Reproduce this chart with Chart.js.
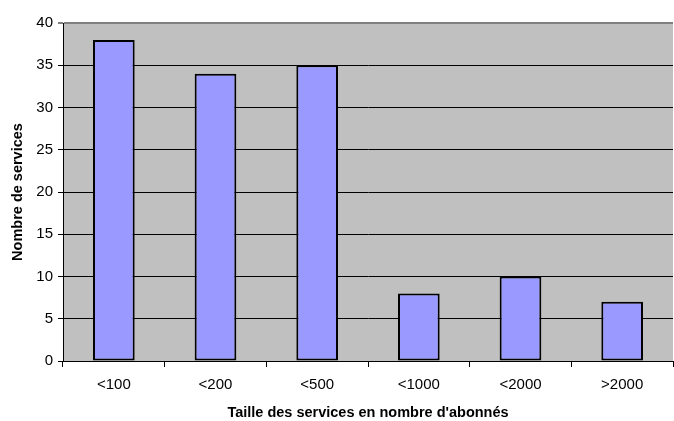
<!DOCTYPE html>
<html><head><meta charset="utf-8">
<script src="https://cdn.jsdelivr.net/npm/chart.js@4"></script>
<style>html,body{margin:0;padding:0;background:#fff}#w{width:674px;height:421px}</style>
</head><body><div id="w"><canvas id="c"></canvas></div>
<script>
const categories = ['<100','<200','<500','<1000','<2000','>2000'];
const services = [38,34,35,8,10,7];
const xTitle = "Taille des services en nombre d'abonnés";
const yTitle = 'Nombre de services';

const bgPlugin = {
  id:'bg',
  beforeDraw(chart){
    const a = chart.chartArea, ctx = chart.ctx;
    ctx.save(); ctx.fillStyle = '#C0C0C0';
    ctx.fillRect(a.left, a.top, a.right - a.left, a.bottom - a.top);
    ctx.restore();
  }
};

new Chart(document.getElementById('c'), {
  type:'bar',
  data:{labels:categories, datasets:[{data:services, backgroundColor:'#9999FF', borderColor:'#000', borderWidth:2, borderSkipped:false, barPercentage:0.41, categoryPercentage:1}]},
  options:{
    responsive:true, maintainAspectRatio:false, animation:false,
    layout:{padding:{top:23,right:1,left:7,bottom:1}},
    plugins:{legend:{display:false}, tooltip:{enabled:false}},
    scales:{
      x:{
        grid:{offset:true, drawOnChartArea:false, drawTicks:true, tickLength:6, color:'#000'},
        border:{color:'#000', width:1},
        ticks:{color:'#000', font:{family:'Liberation Sans, Arial', size:15}, padding:9},
        title:{display:true, text:xTitle, color:'#000', font:{family:'Liberation Sans, Arial', size:14.5, weight:'bold', lineHeight:1}, padding:{top:8,bottom:0}},
        afterFit(s){ s.height = 59; }
      },
      y:{
        min:0, max:40,
        grid:{color:(c)=> c.tick && c.tick.value===40 ? '#808080' : '#000', tickLength:5, lineWidth:(c)=> c.tick && c.tick.value===40 ? 2 : 1},
        border:{color:'#000', width:1},
        ticks:{stepSize:5, color:'#000', font:{family:'Liberation Sans, Arial', size:15}, padding:5},
        title:{display:true, text:yTitle, color:'#000', font:{family:'Liberation Sans, Arial', size:14.5, weight:'bold'}, padding:{top:2,bottom:6}},
        afterFit(s){ s.width = 56; }
      }
    }
  },
  plugins:[bgPlugin]
});
</script></body></html>
